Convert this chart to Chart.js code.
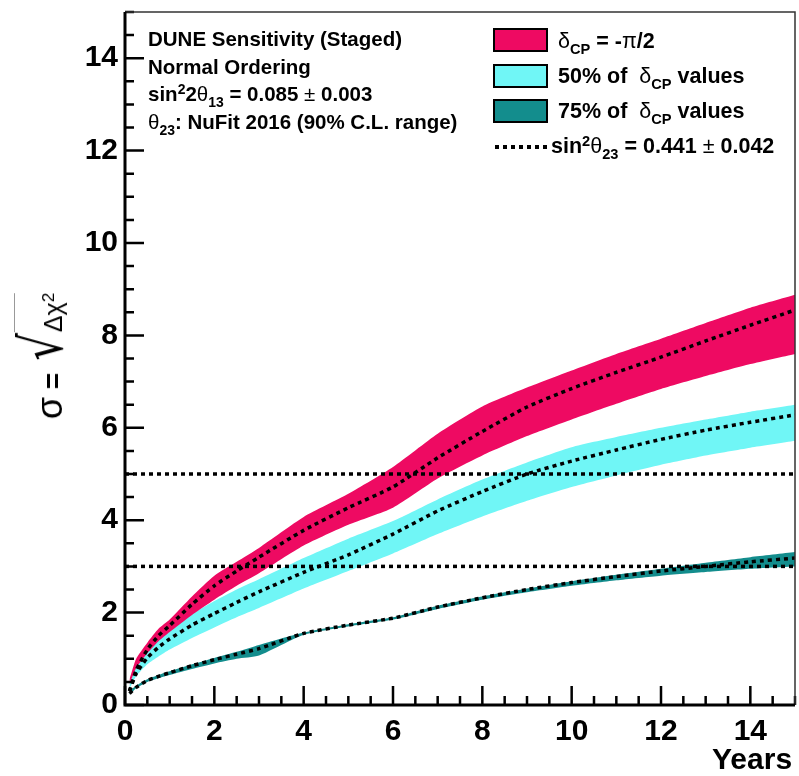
<!DOCTYPE html>
<html>
<head>
<meta charset="utf-8">
<script src="https://cdn.jsdelivr.net/npm/chart.js@4.4.1/dist/chart.umd.min.js"></script>
<style>
  html, body { margin:0; padding:0; background:#fff; }
  #wrap { position:relative; width:799px; height:776px; overflow:hidden; font-family:"Liberation Sans", Arial, sans-serif; }
  canvas { position:absolute; left:0; top:0; }
  .txt { position:absolute; white-space:nowrap; font-weight:bold; color:#000; line-height:1; }
  .g { font-weight:normal; }
  sub { font-size:68%; vertical-align:-0.4em; line-height:0; }
  sup { font-size:68%; vertical-align:0.5em; line-height:0; }
  .box { position:absolute; width:51px; height:20px; border:2.5px solid #000; }
  .dash { position:absolute; height:4px; background:repeating-linear-gradient(to right, #000 0, #000 4px, transparent 4px, transparent 8px); }
  #ytitle { position:absolute; white-space:nowrap; transform: translate(-50%,-50%) rotate(-90deg); line-height:1; color:#000; }
</style>
</head>
<body>
<div id="wrap">
<canvas id="c" width="799" height="776"></canvas>

<div class="txt" style="left:148px; top:29px; font-size:20.5px;">DUNE Sensitivity (Staged)</div>
<div class="txt" style="left:148px; top:57px; font-size:20.5px;">Normal Ordering</div>
<div class="txt" style="left:148px; top:84px; font-size:20.5px;">sin<sup>2</sup>2<span class="g">θ</span><sub>13</sub> = 0.085 <span class="g">±</span> 0.003</div>
<div class="txt" style="left:148px; top:112px; font-size:20.5px;"><span class="g">θ</span><sub>23</sub>: NuFit 2016 (90% C.L. range)</div>

<div class="box" style="left:493px; top:28px; background:#EE0A62;"></div>
<div class="box" style="left:493px; top:64px; background:#70F6F6;"></div>
<div class="box" style="left:493px; top:99px; background:#138D8D;"></div>
<div class="dash" style="left:495px; top:145px; width:52px;"></div>
<div class="txt" style="left:558px; top:31px; font-size:21.5px;"><span class="g">δ</span><sub>CP</sub> = -<span class="g">π</span>/2</div>
<div class="txt" style="left:558px; top:66px; font-size:21.5px;">50% of &nbsp;<span class="g">δ</span><sub>CP</sub> values</div>
<div class="txt" style="left:558px; top:101px; font-size:21.5px;">75% of &nbsp;<span class="g">δ</span><sub>CP</sub> values</div>
<div class="txt" style="left:551px; top:136px; font-size:21.5px;">sin<sup>2</sup><span class="g">θ</span><sub>23</sub> = 0.441 <span class="g">±</span> 0.042</div>

<div class="txt" style="left:712px; top:744px; font-size:30px;">Years</div>

<div id="ytitle" style="left:42px; top:356px;"><span style="font-size:36px;">σ</span><span style="font-size:28px; font-weight:bold;"> = </span><span style="font-size:58px; display:inline-block; transform:scaleX(0.75); font-family:'DejaVu Sans';">√</span><span style="display:inline-block; font-size:25px; padding-top:26px; border-top:1.5px solid #999; margin-left:-4px;">Δχ<sup>2</sup></span></div>
</div>

<script>
// ---------------- data ----------------
const years = [0.1, 0.25, 0.5, 0.75, 1, 1.5, 2, 2.5, 3, 4, 5, 6, 7, 8, 9, 10, 11, 12, 13, 14, 15];

// delta_CP = -pi/2 band
const redUpper   = [0.55, 1.00, 1.35, 1.65, 1.85, 2.35, 2.80, 3.10, 3.40, 4.07, 4.57, 5.15, 5.87, 6.46, 6.87, 7.24, 7.60, 7.93, 8.27, 8.60, 8.88];
const redLower   = [0.45, 0.80, 1.12, 1.38, 1.58, 1.95, 2.28, 2.58, 2.85, 3.45, 3.90, 4.27, 4.90, 5.40, 5.82, 6.18, 6.52, 6.84, 7.12, 7.38, 7.60];
const redCentral = [0.30, 0.75, 1.20, 1.50, 1.72, 2.18, 2.58, 2.90, 3.20, 3.78, 4.27, 4.72, 5.35, 5.92, 6.45, 6.85, 7.20, 7.53, 7.88, 8.22, 8.55];

// 50% of delta_CP values band
const cyanUpper   = [0.45, 0.85, 1.20, 1.45, 1.65, 1.97, 2.25, 2.50, 2.72, 3.18, 3.60, 3.98, 4.45, 4.88, 5.25, 5.58, 5.80, 6.00, 6.18, 6.35, 6.50];
const cyanLower   = [0.35, 0.62, 0.88, 1.05, 1.20, 1.45, 1.68, 1.90, 2.10, 2.52, 2.90, 3.28, 3.70, 4.08, 4.42, 4.72, 4.97, 5.20, 5.40, 5.57, 5.72];
const cyanCentral = [0.30, 0.68, 1.02, 1.25, 1.43, 1.73, 1.98, 2.22, 2.45, 2.87, 3.25, 3.70, 4.20, 4.62, 5.00, 5.28, 5.52, 5.75, 5.95, 6.12, 6.28];

// 75% of delta_CP values band
const tealUpper   = [0.30, 0.42, 0.56, 0.65, 0.73, 0.88, 1.02, 1.15, 1.30, 1.57, 1.75, 1.90, 2.15, 2.35, 2.52, 2.68, 2.82, 2.95, 3.08, 3.20, 3.31];
const tealLower   = [0.22, 0.36, 0.50, 0.58, 0.65, 0.78, 0.90, 1.00, 1.07, 1.52, 1.70, 1.85, 2.08, 2.28, 2.44, 2.58, 2.70, 2.80, 2.88, 2.95, 3.00];
const tealCentral = [0.25, 0.38, 0.53, 0.62, 0.70, 0.85, 0.98, 1.10, 1.22, 1.55, 1.73, 1.88, 2.12, 2.32, 2.50, 2.65, 2.78, 2.90, 3.00, 3.10, 3.18];

// reference significance levels
const sigmaLevels = [3, 5];
const xRange = [0, 15];
const yRange = [0, 15];
const xTickLabels = [0, 2, 4, 6, 8, 10, 12, 14];
const yTickLabels = [0, 2, 4, 6, 8, 10, 12, 14];

// ---------------- styles ----------------
const RED = '#EE0A62', CYAN = '#70F6F6', TEAL = '#138D8D';
const TENSION = 0.2;

const pts = arr => arr.map((v, i) => ({ x: years[i], y: v }));

const dotted = data => ({
  data, borderColor: '#000', borderWidth: 3.5, borderDash: [4, 4],
  pointRadius: 0, fill: false, tension: TENSION, borderCapStyle: 'butt'
});

const datasets = [];
datasets.push(dotted(pts(redCentral)));
datasets.push(dotted(pts(cyanCentral)));
datasets.push(dotted(pts(tealCentral)));
sigmaLevels.forEach(s => datasets.push(Object.assign(dotted([{ x: xRange[0], y: s }, { x: xRange[1], y: s }]), { tension: 0 })));

function band(lower, upper, color) {
  const lowIdx = datasets.length;
  datasets.push({ data: pts(lower), borderWidth: 0, pointRadius: 0, fill: false, borderColor: 'rgba(0,0,0,0)', tension: TENSION });
  datasets.push({ data: pts(upper), borderWidth: 0, pointRadius: 0, fill: { target: lowIdx }, backgroundColor: color, borderColor: 'rgba(0,0,0,0)', tension: TENSION });
}
band(redLower, redUpper, RED);
band(cyanLower, cyanUpper, CYAN);
band(tealLower, tealUpper, TEAL);

const framePlugin = {
  id: 'frame',
  afterDatasetsDraw(chart) {
    const { ctx, chartArea: a, scales: { x, y } } = chart;
    ctx.save();
    ctx.strokeStyle = '#000';
    ctx.lineWidth = 2.5;
    ctx.beginPath();
    for (let v = xRange[0]; v <= xRange[1] + 1e-9; v += 0.5) {
      const px = x.getPixelForValue(v);
      const len = xTickLabels.includes(v) ? 19 : 9;
      ctx.moveTo(px, a.bottom); ctx.lineTo(px, a.bottom - len);
    }
    for (let v = yRange[0]; v <= yRange[1] + 1e-9; v += 0.5) {
      const py = y.getPixelForValue(v);
      const len = yTickLabels.includes(v) ? 19 : 9;
      ctx.moveTo(a.left, py); ctx.lineTo(a.left + len, py);
    }
    ctx.stroke();
    ctx.lineWidth = 1.5;
    ctx.strokeStyle = '#333';
    ctx.beginPath();
    ctx.moveTo(a.left, a.top); ctx.lineTo(a.right, a.top); ctx.lineTo(a.right, a.bottom);
    ctx.stroke();
    ctx.lineWidth = 3;
    ctx.strokeStyle = '#000';
    ctx.beginPath();
    ctx.moveTo(a.left, a.top); ctx.lineTo(a.left, a.bottom); ctx.lineTo(a.right, a.bottom);
    ctx.stroke();
    ctx.restore();
  }
};

new Chart(document.getElementById('c'), {
  type: 'line',
  data: { datasets },
  options: {
    responsive: false,
    animation: false,
    layout: { padding: { left: 0, right: 4, top: 12, bottom: 0 } },
    plugins: { legend: { display: false }, tooltip: { enabled: false } },
    scales: {
      x: {
        type: 'linear', min: xRange[0], max: xRange[1],
        afterBuildTicks: s => { s.ticks = xTickLabels.map(v => ({ value: v })); },
        afterFit: s => { s.height = 71; s.paddingLeft = 0; s.paddingRight = 0; },
        grid: { display: false, drawTicks: false },
        border: { display: false },
        ticks: { padding: 9, color: '#000', font: { family: 'Liberation Sans', weight: 'bold', size: 30 }, maxRotation: 0, autoSkip: false }
      },
      y: {
        type: 'linear', min: yRange[0], max: yRange[1],
        afterBuildTicks: s => { s.ticks = yTickLabels.map(v => ({ value: v })); },
        afterFit: s => { s.width = 125; s.paddingTop = 0; s.paddingBottom = 0; },
        grid: { display: false, drawTicks: false },
        border: { display: false },
        ticks: { padding: 7, color: '#000', font: { family: 'Liberation Sans', weight: 'bold', size: 30 }, autoSkip: false }
      }
    }
  },
  plugins: [framePlugin]
});
</script>
</body>
</html>
